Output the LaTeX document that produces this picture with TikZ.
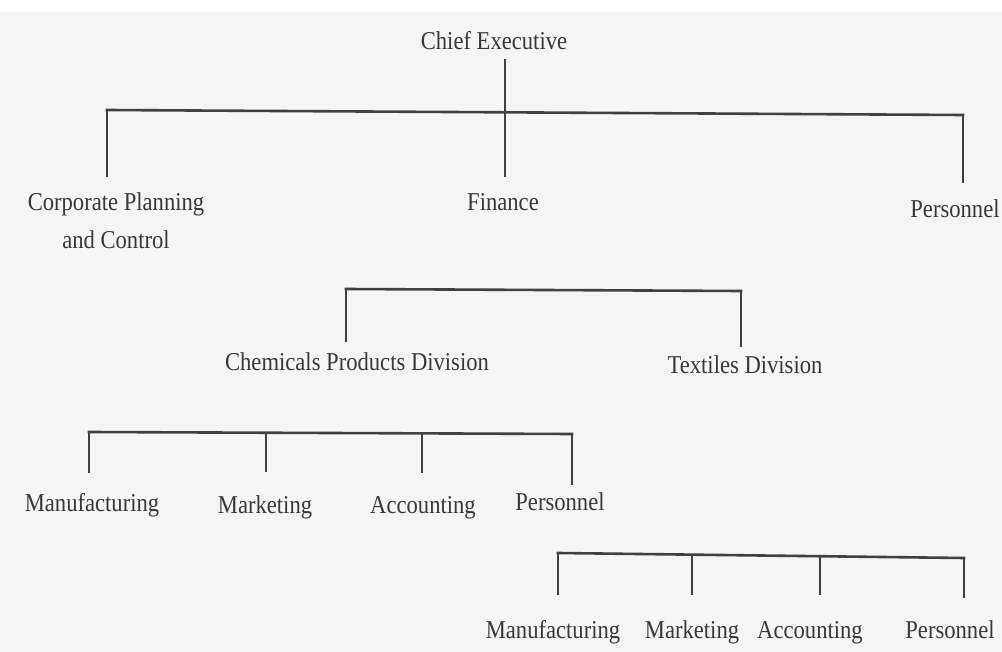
\documentclass[tikz,border=0pt]{standalone}
\usepackage{fontspec}
\setmainfont{Liberation Serif}[FakeStretch=0.88]
\usetikzlibrary{positioning}

\tikzset{
  post/.style={font=\fontsize{25.7}{30}\selectfont, text=black!78,
    inner sep=0pt, text height=17pt, text depth=5pt, anchor=base},
  bar/.style={line width=2.6pt, draw=black!75, line cap=rect},
  drop/.style={line width=1.6pt, draw=black!75},
}

\begin{document}
\begin{tikzpicture}[x=1pt,y=-1pt]
\useasboundingbox[fill=black!4] (0,0) rectangle (1002,652);
\fill[white] (0,0) rectangle (1002,12);

% top
\node[post] (chief) at (494,50) {Chief Executive};
\node[post] (cpc) at (116,211) {Corporate Planning};
\node[post, below=15pt of cpc] (cpc2) {and Control};
\node[post] (fin) at (503,211) {Finance};
\node[post] (pers) at (955,218) {Personnel};

\coordinate (t1) at (107,110);
\coordinate (tc) at (505,112);
\coordinate (t2) at (963,115);
\draw[bar] (t1) -- (t2);
\draw[drop, shorten <=4pt, shorten >=17pt] (tc |- chief.south) -- (tc |- fin.north);
\draw[drop, shorten >=17pt] (t1) -- (t1 |- cpc.north);
\draw[drop, shorten >=18pt] (t2) -- (t2 |- pers.north);

% divisions
\node[post] (chem) at (357,371) {Chemicals Products Division};
\node[post] (tex) at (745,374) {Textiles Division};

\coordinate (d1) at (346,289);
\coordinate (d2) at (741,291);
\draw[bar] (d1) -- (d2);
\draw[drop, shorten >=12pt] (d1) -- (d1 |- chem.north);
\draw[drop, shorten >=10pt] (d2) -- (d2 |- tex.north);

% chemicals departments
\foreach \name/\x/\y/\txt in {cman/92/511/Manufacturing, cmar/265/513/Marketing,
    cacc/423/513/Accounting, cper/560/510/Personnel}
  \node[post] (\name) at (\x,\y) {\txt};

\coordinate (c1) at (89,432);
\coordinate (c2) at (266,432);
\coordinate (c3) at (422,433);
\coordinate (c4) at (572,434);
\draw[bar] (c1) -- (c4);
\foreach \c/\n/\s in {c1/cman/21, c2/cmar/24, c3/cacc/23, c4/cper/8}
  \draw[drop, shorten >=\s pt] (\c) -- (\c |- \n.north);

% textiles departments
\foreach \name/\x/\txt in {tman/553/Manufacturing, tmar/692/Marketing,
    tacc/810/Accounting, tper/950/Personnel}
  \node[post] (\name) at (\x,638) {\txt};

\coordinate (e1) at (558,553);
\coordinate (e2) at (692,555);
\coordinate (e3) at (820,556);
\coordinate (e4) at (964,558);
\draw[bar] (e1) -- (e4);
\foreach \c/\n/\s in {e1/tman/26, e2/tmar/26, e3/tacc/26, e4/tper/23}
  \draw[drop, shorten >=\s pt] (\c) -- (\c |- \n.north);
\end{tikzpicture}
\end{document}
